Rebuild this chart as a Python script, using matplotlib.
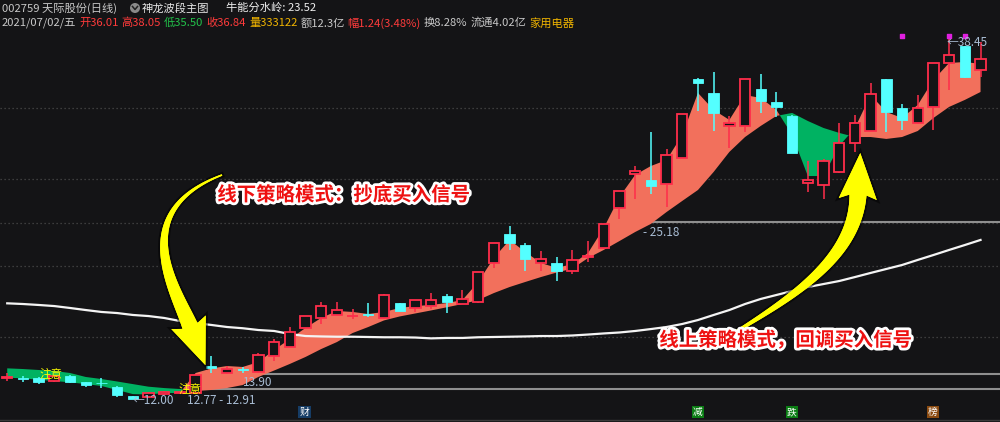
"""
天际股份(日线) with the 神龙波段主图 band overlay.
"""
import numpy as np
import matplotlib
matplotlib.use('Agg')
import matplotlib.pyplot as plt
import matplotlib.patheffects as pe
import matplotlib.transforms as mtransforms
from matplotlib.patches import Rectangle, Polygon, Circle

plt.rcParams['font.family'] = ['Noto Sans CJK SC', 'DejaVu Sans']

# daily bars, oldest first (last bar = 2021/07/02)
opens = [13.54, 13.52, 13.56, 13.29, 13.70, 13.26, 13.20, 12.90, 12.22, 12.17,
         12.40, 12.42, 12.42, 14.41, 13.88, 14.18, 13.99, 15.16, 15.82, 17.21,
         17.90, 18.16, 18.03, 18.18, 17.90, 18.99, 18.67, 18.77, 19.53, 18.96,
         19.06, 21.91, 24.05, 23.25, 21.91, 21.91, 21.37, 22.38, 23.01, 25.98,
         28.42, 28.00, 27.71, 29.63, 35.38, 34.36, 31.93, 31.93, 34.65, 33.70,
         32.68, 27.76, 27.61, 28.56, 30.68, 31.58, 35.38, 33.24, 32.14, 33.31,
         36.53, 37.79, 36.01]
highs = [13.88, 13.70, 13.58, 13.70, 13.77, 13.27, 13.53, 12.92, 12.25, 12.50,
         12.60, 12.56, 13.77, 15.14, 14.41, 14.34, 15.34, 16.38, 17.26, 18.06,
         19.09, 19.09, 18.55, 18.99, 19.67, 19.00, 19.23, 19.74, 19.67, 19.96,
         21.30, 23.40, 24.64, 23.38, 22.81, 22.40, 22.89, 23.55, 24.81, 27.22,
         29.02, 31.53, 30.24, 32.82, 35.48, 35.89, 32.68, 35.38, 35.75, 34.43,
         32.75, 29.39, 29.51, 32.14, 32.75, 35.07, 35.40, 33.55, 34.21, 36.55,
         38.45, 37.80, 38.05]
lows = [13.34, 13.26, 13.12, 13.27, 13.15, 12.90, 12.82, 12.17, 12.00, 12.14,
        12.30, 12.40, 12.40, 13.90, 13.86, 13.92, 13.88, 14.80, 15.80, 17.19,
        17.46, 18.14, 17.84, 18.01, 17.88, 18.44, 18.38, 18.55, 18.30, 18.94,
        19.04, 21.57, 22.89, 21.37, 21.37, 20.64, 21.13, 22.03, 22.99, 25.18,
        26.59, 26.98, 26.05, 29.61, 33.07, 31.60, 30.32, 31.53, 32.92, 32.58,
        29.98, 27.15, 26.59, 28.49, 30.07, 31.56, 31.53, 31.65, 32.12, 31.65,
        34.58, 35.43, 35.50]
closes = [13.58, 13.48, 13.24, 13.68, 13.24, 13.04, 13.15, 12.27, 12.02, 12.46,
          12.50, 12.53, 13.75, 14.24, 14.17, 14.12, 15.21, 16.14, 16.87, 18.04,
          18.77, 18.48, 18.06, 18.14, 19.58, 18.45, 19.21, 19.21, 19.11, 19.30,
          21.26, 23.38, 23.42, 22.23, 22.21, 21.37, 22.13, 22.42, 24.79, 27.20,
          28.64, 27.58, 29.81, 32.80, 35.11, 32.92, 32.16, 35.36, 33.80, 33.36,
          30.00, 27.98, 29.37, 30.68, 32.14, 34.26, 32.99, 32.39, 33.24, 36.53,
          37.14, 35.55, 36.84]

# band lines of the indicator (fast above slow -> salmon, below -> green)
fast_line = [13.56, 13.51, 13.41, 13.31, 13.22, 13.09, 12.95, 12.66, 12.36, 12.33,
             12.44, 12.44, 13.90, 14.23, 14.41, 14.34, 14.70, 15.58, 16.38, 17.19,
             17.92, 18.43, 18.36, 18.21, 18.36, 18.65, 18.79, 18.87, 19.01, 19.23,
             20.55, 22.30, 23.62, 22.74, 21.94, 21.57, 21.86, 22.67, 24.49, 26.76,
             28.37, 29.02, 29.46, 31.29, 34.36, 33.12, 32.39, 34.21, 33.99, 33.12,
             31.29, 28.29, 28.29, 30.49, 31.80, 34.21, 32.97, 32.53, 33.48, 35.31,
             36.55, 36.62, 36.48]
slow_line = [14.24, 14.19, 14.12, 14.05, 13.90, 13.61, 13.46, 13.28, 13.09, 12.90,
             12.80, 12.73, 12.58, 12.66, 12.80, 13.02, 13.61, 14.08, 14.56, 15.07,
             15.65, 16.16, 16.82, 17.26, 17.74, 18.03, 18.25, 18.47, 18.70, 18.94,
             19.23, 19.74, 20.18, 20.55, 20.91, 21.24, 21.53, 22.30, 22.89, 23.54,
             24.20, 24.79, 25.66, 26.47, 27.27, 28.59, 30.05, 31.14, 31.95, 32.68,
             32.90, 32.31, 31.80, 31.44, 31.14, 31.14, 31.00, 31.14, 31.58, 32.53,
             33.34, 33.85, 34.43]
# 牛能分水岭 (white long line)
long_line = [18.99, 18.94, 18.87, 18.79, 18.65, 18.50, 18.36, 18.28, 18.14, 18.06,
             17.92, 17.70, 17.55, 17.41, 17.26, 17.17, 17.04, 16.97, 16.75, 16.60,
             16.57, 16.55, 16.55, 16.53, 16.51, 16.51, 16.49, 16.43, 16.46, 16.46,
             16.51, 16.53, 16.55, 16.57, 16.60, 16.60, 16.64, 16.71, 16.79, 16.86,
             16.97, 17.11, 17.26, 17.48, 17.77, 18.14, 18.50, 18.94, 19.31, 19.60,
             19.89, 20.18, 20.40, 20.62, 20.91, 21.21, 21.50, 21.79, 22.16, 22.52,
             22.89, 23.25, 23.62]

grid_levels = [33.26, 28.07, 24.86, 21.72, 16.53]
level_prices = [24.91, 13.80, 12.71]
level_start_bars = [39, 13, 12]
signal_bars = [57, 60, 61]

header_top = [('002759 天际股份(日线)', '#c8c8c8', 0),
              ('神龙波段主图', '#e6e6e6', 22),
              ('牛能分水岭: 23.52', '#f0f0f0', 14)]
header_quote = [('2021/07/02/五', '#c8c8c8'), ('开36.01', '#ff3b3b'),
                ('高38.05', '#ff3b3b'), ('低35.50', '#22c24a'),
                ('收36.84', '#ff3b3b'), ('量333122', '#f0b400'),
                ('额12.3亿', '#c8c8c8'), ('幅1.24(3.48%)', '#ff3b3b'),
                ('换8.28%', '#c8c8c8'), ('流通4.02亿', '#c8c8c8'),
                ('家用电器', '#f0b400')]
bottom_tags = [(304.5, '财', '#163d66'), (698, '减', '#0b7d14'),
               (792, '跌', '#0b7d14'), (933, '榜', '#8a4a10')]

BG = '#141416'
UP = '#ff2d4b'
DOWN = '#54ffff'
SALMON = '#f2705c'
GREEN = '#00b262'
LABEL = '#a9bdd4'
HEAD_FS = 8.1


def bezier(ctrl, t):
    p = np.asarray(ctrl, float)
    t = t[:, None]
    return ((1 - t) ** 3 * p[0] + 3 * (1 - t) ** 2 * t * p[1]
            + 3 * (1 - t) * t ** 2 * p[2] + t ** 3 * p[3])


def curved_arrow(ax, ctrl, w_tail, w_head, head_len, head_w, color):
    t = np.linspace(0, 1, 120)
    pts = bezier(ctrl, t)
    d = np.gradient(pts, axis=0)
    d /= np.linalg.norm(d, axis=1)[:, None]
    n = np.c_[-d[:, 1], d[:, 0]]
    w = (w_tail + (w_head - w_tail) * t ** 1.1)[:, None] / 2
    left, right = pts + n * w, pts - n * w
    end, dv, nv = pts[-1], d[-1], n[-1]
    tip = end + dv * head_len
    poly = np.vstack([left, end + nv * head_w / 2 - dv * 4, tip,
                      end - nv * head_w / 2 - dv * 4, right[::-1]])
    ax.add_patch(Polygon(poly, closed=True, fc=color, ec='none', zorder=9,
                         path_effects=[pe.withStroke(linewidth=3, foreground='#000000', alpha=0.5),
                                       pe.Normal()]))


def text_run(ax, x0, y, parts, gap=3):
    # lay the pieces out one after another on one line
    prev = None
    for s, col, extra in parts:
        if prev is None:
            prev = ax.text(x0, y, s, color=col, fontsize=HEAD_FS, va='center', ha='left')
        else:
            prev = ax.annotate(s, xy=(1, 0.5), xycoords=prev, xytext=(gap + extra, 0),
                               textcoords='offset pixels', color=col, fontsize=HEAD_FS,
                               va='center', ha='left')
    return prev


fig = plt.figure(figsize=(10, 4.22), dpi=100, facecolor=BG)
ax = fig.add_axes([0, 0, 1, 1], facecolor=BG)
n = len(closes)
x = np.arange(n)
ax.set_xlim(-0.46, 63.24)
ax.set_ylim(10.32, 41.15)
ax.axis('off')

for g in grid_levels:
    ax.axhline(g, color='#4a4a4a', lw=0.9, ls=(0, (1, 2.2)), zorder=1)
for price, start in zip(level_prices, level_start_bars):
    ax.hlines(price, start, 64, color='#8f8f8f', lw=1.5, zorder=1.5)

fast = np.array(fast_line)
slow = np.array(slow_line)
ax.fill_between(x, slow, fast, where=fast >= slow, interpolate=True,
                color=SALMON, lw=0, zorder=2)
ax.fill_between(x, slow, fast, where=fast < slow, interpolate=True,
                color=GREEN, lw=0, zorder=2)
ax.plot(x, long_line, color='#f4f4f4', lw=1.6, zorder=3)

bw = 0.66
for i in range(n):
    o, h, l, c = opens[i], highs[i], lows[i], closes[i]
    top, bot = max(o, c), min(o, c)
    body = max(top - bot, 0.04)
    if c >= o:
        ax.vlines(i, top, h, color=UP, lw=1.1, zorder=4)
        ax.vlines(i, l, bot, color=UP, lw=1.1, zorder=4)
        ax.add_patch(Rectangle((i - bw / 2, bot), bw, body, fc=BG, ec=UP,
                               lw=1.3, zorder=5))
    else:
        ax.vlines(i, l, h, color=DOWN, lw=1.1, zorder=4)
        ax.add_patch(Rectangle((i - bw / 2, bot), bw, body, fc=DOWN, ec=DOWN,
                               lw=0.6, zorder=5))

# overlay in pixel coordinates for labels, header and arrows
ov = fig.add_axes([0, 0, 1, 1], facecolor='none')
ov.set_xlim(0, 1000)
ov.set_ylim(422, 0)
ov.axis('off')

trans = mtransforms.blended_transform_factory(ax.transData, ov.transData)
ov.scatter(signal_bars, [36] * len(signal_bars), s=5, marker='s',
           color='#e020e0', transform=trans, zorder=6)

text_run(ov, 2, 8, header_top)
ov.add_patch(Circle((135, 8), 5, fc='#8a8a8a', ec='none'))
ov.plot([132.5, 135, 137.5], [6.5, 9.5, 6.5], color='#202020', lw=1.1)
text_run(ov, 2, 23, [(s, c, 0) for s, c in header_quote], gap=3)

ov.text(133, 400, '←12.00', color=LABEL, fontsize=8.5, va='center', ha='left')
ov.text(187, 400, '12.77 - 12.91', color=LABEL, fontsize=8.5, va='center', ha='left')
ov.text(243, 383, '13.90', color=LABEL, fontsize=8.5, va='center', ha='left')
ov.text(643, 233, '- 25.18', color=LABEL, fontsize=8.5, va='center', ha='left')
ov.text(947, 42, '←38.45', color=LABEL, fontsize=8.5, va='center', ha='left', zorder=7)

ov.text(51, 374, '注意', color='#ffff00', fontsize=8.3, va='center', ha='center', zorder=7)
ov.text(190, 389, '注意', color='#ffff00', fontsize=8.3, va='center', ha='center', zorder=7)

for px, s, col in bottom_tags:
    ov.text(px, 412, s, color='white', fontsize=7, va='center', ha='center',
            bbox=dict(boxstyle='square,pad=0.12', fc=col, ec='none'))
ov.axhline(419.5, color='#3a3a3a', lw=1)

curved_arrow(ov, [(222, 175), (125, 212), (176, 290), (190, 326)],
             1.5, 16, 42, 37, '#ffff00')
curved_arrow(ov, [(712, 346), (790, 300), (855, 260), (858, 195)],
             1.5, 17, 42, 38, '#ffff00')

glow = [pe.withStroke(linewidth=4, foreground='white')]
ov.text(344, 195, '线下策略模式：抄底买入信号', color='#ee1111', fontsize=14,
        fontweight='bold', ha='center', va='center', path_effects=glow, zorder=10)
ov.text(786, 340, '线上策略模式，回调买入信号', color='#ee1111', fontsize=14,
        fontweight='bold', ha='center', va='center', path_effects=glow, zorder=10)

fig.savefig('out.png', dpi=100, facecolor=BG)
